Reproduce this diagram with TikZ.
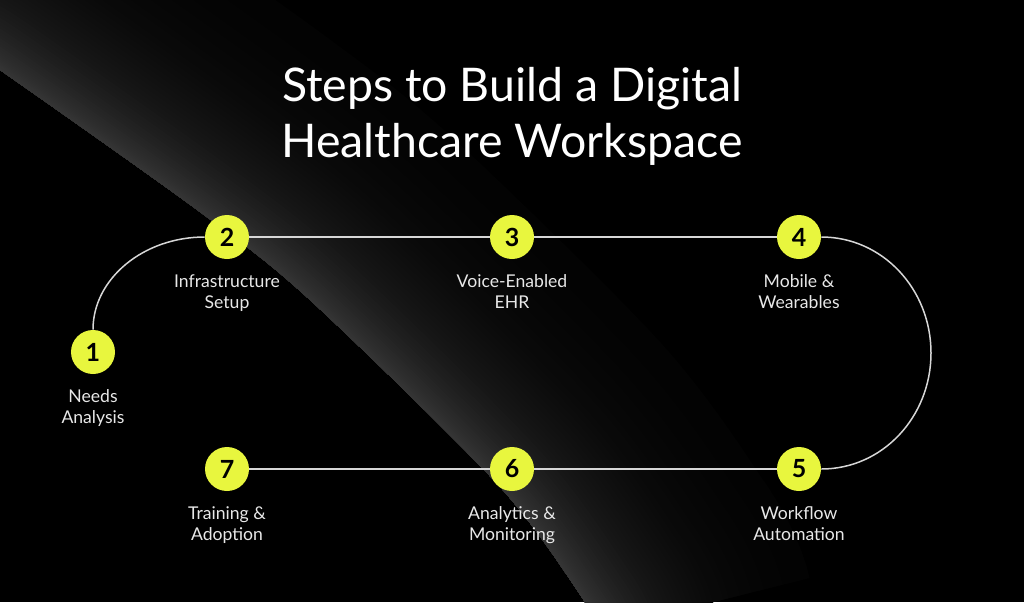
\documentclass[tikz,border=0pt]{standalone}
\usepackage{fontspec}
\setmainfont{Lato}
\usetikzlibrary{positioning, calc}
\definecolor{myyellow}{RGB}{232, 246, 62}
\definecolor{mytrack}{RGB}{215, 215, 215}
\definecolor{mytext}{RGB}{232, 232, 232}

\begin{document}
\begin{tikzpicture}[
    x=0.5pt, y=-0.5pt,
    badge/.style={circle, fill=myyellow, minimum size=22pt, inner sep=0pt, text=black, font=\fontsize{12.5}{12.5}\selectfont\bfseries},
    caption/.style={align=center, inner sep=0pt, text=mytext, font=\fontsize{8.8}{10.5}\selectfont},
    track/.style={draw=mytrack, line width=0.75pt}
]
\useasboundingbox (0,0) rectangle (1024,602);

% Background
\fill[black] (0,0) rectangle (1024,602);
\begin{scope}
    \clip (-30,0) -- (-30,52) -- plot[smooth] coordinates {(-30,52) (0,70) (200,212) (310,300) (500,487) (585,602) (600,630)} -- (1024,630) -- (1024,0) -- cycle;
    \foreach \i [evaluate=\i as \b using {21*exp(-0.00086*\i*\i)}] in {60,59,...,1}
        \draw[white!\b!black, line width=\i*\i*0.06pt] plot[smooth] coordinates {(-30,52) (0,70) (200,212) (310,300) (500,487) (585,602) (600,630)};
\end{scope}

% Title
\node[align=center, anchor=north, inner sep=0pt, text=white, font=\fontsize{23.2}{28}\selectfont] (title) at (512,67) {Steps to Build a Digital\\Healthcare Workspace};

% Steps
\node[badge] (needs) at (93,352) {1};
\node[badge] (infra) at (227,237) {2};
\node[badge] (voice) at (512,237) {3};
\node[badge] (mobile) at (799,237) {4};
\node[badge] (workflow) at (799,469) {5};
\node[badge] (analytics) at (512,469) {6};
\node[badge] (training) at (227,469) {7};

% Captions
\node[caption, below=7.5pt of needs] (needs_txt) {Needs\\Analysis};
\node[caption, below=7.5pt of infra] (infra_txt) {Infrastructure\\Setup};
\node[caption, below=7.5pt of voice] (voice_txt) {Voice-Enabled\\EHR};
\node[caption, below=7.5pt of mobile] (mobile_txt) {Mobile \&\\Wearables};
\node[caption, below=7.5pt of workflow] (workflow_txt) {Workflow\\Automation};
\node[caption, below=7.5pt of analytics] (analytics_txt) {Analytics \&\\Monitoring};
\node[caption, below=7.5pt of training] (training_txt) {Training \&\\Adoption};

% Track
\coordinate (turn) at (931,353);
\draw[track] (needs.north) .. controls +(0,-51) and +(-61,0) .. (infra.west);
\draw[track] (infra) -- (voice);
\draw[track] (voice) -- (mobile);
\draw[track] (mobile.east) .. controls +(61,0) and +(0,-64) .. (turn) .. controls +(0,64) and +(61,0) .. (workflow.east);
\draw[track] (workflow) -- (analytics);
\draw[track] (analytics) -- (training);

\end{tikzpicture}
\end{document}
